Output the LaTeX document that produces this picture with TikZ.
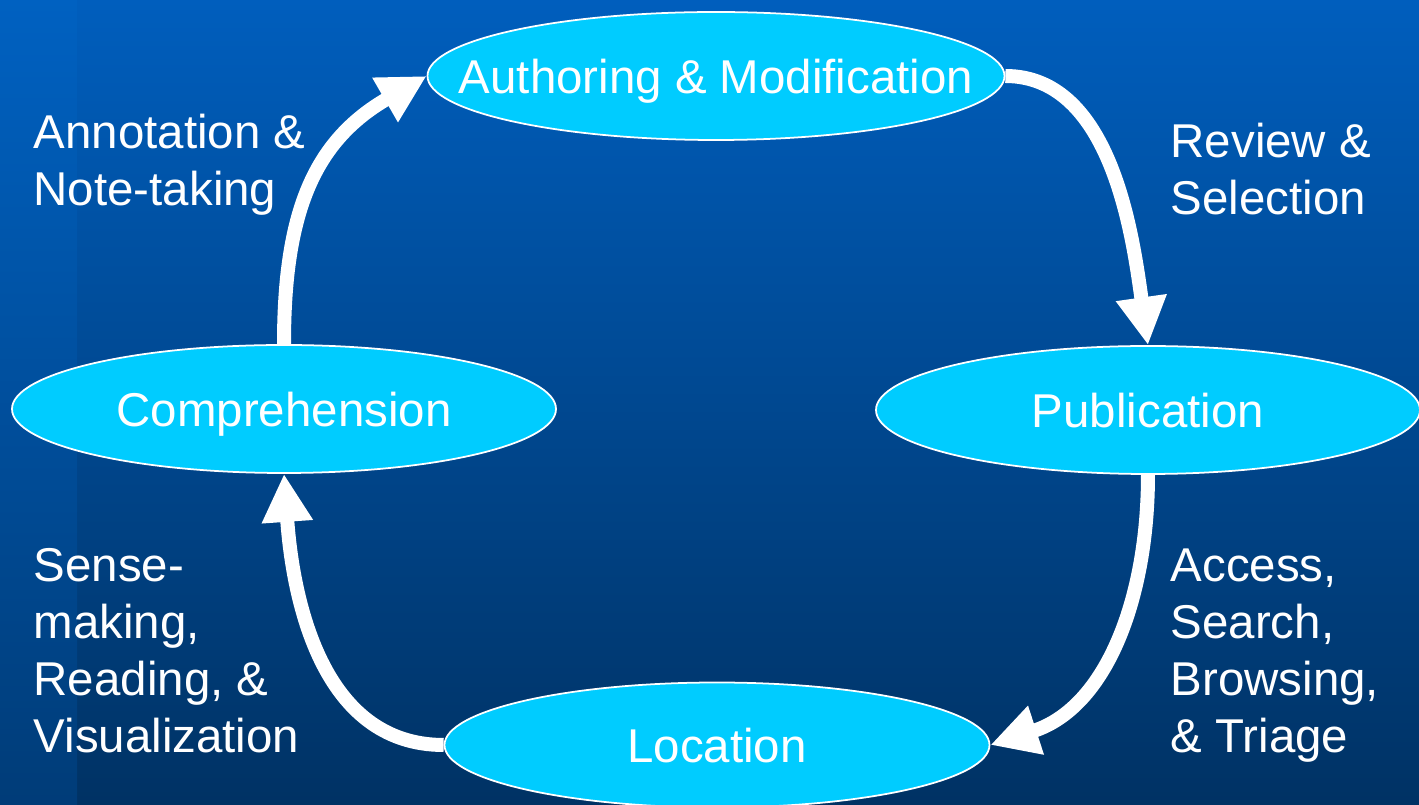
\documentclass[tikz,border=0pt]{standalone}
\usepackage{fontspec}
\setmainfont{Liberation Sans}
\usetikzlibrary{positioning, arrows.meta, shapes.geometric}
\definecolor{bgtop}{RGB}{0,94,189}
\definecolor{bgbot}{RGB}{0,50,100}
\definecolor{striptop}{RGB}{0,97,193}
\definecolor{stripbot}{RGB}{0,60,120}
\definecolor{ovalfill}{RGB}{0,204,255}

\begin{document}
\begin{tikzpicture}[
  oval/.style={ellipse, draw=white, line width=0.5pt, fill=ovalfill, text=white,
               inner sep=0pt, minimum height=1.28cm, text depth=0pt,
               font=\fontsize{13.5}{16.2}\selectfont},
  lbl/.style={anchor=north west, inner sep=0pt, align=left, text=white,
              font=\fontsize{13.5}{16.2}\selectfont},
  arr/.style={-{Triangle[width=4.8mm, length=4.8mm]}, line width=1.4mm, white}]
  \useasboundingbox (0,0) rectangle (14.19,8.05);
  % background
  \shade[top color=bgtop, bottom color=bgbot] (0,0) rectangle (14.19,8.05);
  \shade[top color=striptop, bottom color=stripbot] (0,0) rectangle (0.77,8.05);
  % cycle stages
  \node[oval, minimum width=5.77cm] (auth) at (7.16,7.29) {\makebox[0pt]{Authoring \& Modification}};
  \node[oval, minimum width=5.44cm] (pub) at (11.48,3.95) {Publication};
  \node[oval, minimum width=5.45cm, minimum height=1.25cm] (loc) at (7.17,0.60) {Location};
  \node[oval, minimum width=5.44cm] (comp) at (2.84,3.96) {Comprehension};
  % activities
  \node[lbl] (ann) at (0.33,6.92) {Annotation \&\\Note-taking};
  \node[lbl] (rev) at (11.70,6.83) {Review \&\\Selection};
  \node[lbl] (acc) at (11.70,2.57) {Access,\\Search,\\Browsing,\\\& Triage};
  \node[lbl] (sense) at (0.33,2.57) {Sense-\\making,\\Reading, \&\\Visualization};
  % arrows
  \draw[arr] (comp.north) to[out=90, in=-150, looseness=1.1] (auth.west);
  \draw[arr] (auth.east) to[out=0, in=98, looseness=0.9] (pub.north);
  \draw[arr] (pub.south) to[out=-90, in=18] (loc.east);
  \draw[arr] (loc.west) to[out=180, in=-86] (comp.south);
\end{tikzpicture}
\end{document}
